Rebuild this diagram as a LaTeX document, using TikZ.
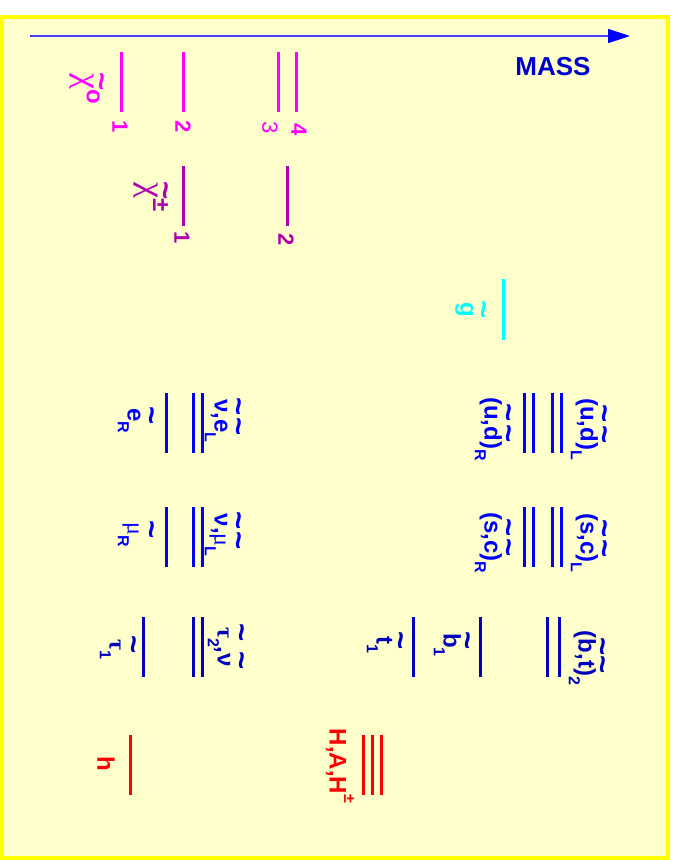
\documentclass[tikz,border=0pt]{standalone}
\usepackage{fontspec}
\setmainfont{Liberation Sans}
\newfontfamily\grkfont{Liberation Serif}
\usetikzlibrary{arrows.meta}

\definecolor{bgyellow}{RGB}{255,255,204}
\definecolor{rimyellow}{RGB}{255,255,0}
\definecolor{axisblue}{RGB}{64,64,255}
\definecolor{massblue}{RGB}{0,0,204}
\definecolor{neutcol}{RGB}{255,0,255}
\definecolor{charcol}{RGB}{176,0,176}
\definecolor{gluicol}{RGB}{0,255,255}
\definecolor{sqblue}{RGB}{0,0,255}
\definecolor{dkblue}{RGB}{0,0,190}
\definecolor{higgscol}{RGB}{255,0,0}

% tilde over a letter, sub- and superscripts
\newcommand\tld[2][0.57em]{{\setbox0\hbox{#2}\rlap{\hbox to\wd0{\hss\raisebox{#1}{\scalebox{1.3}{\bfseries\char"7E}}\hss}}\box0}}
\newcommand\lsub[1]{\raisebox{-0.4em}{\fontsize{16}{16}\selectfont #1}}
\newcommand\lsup[1]{\raisebox{0.6em}{\fontsize{16}{16}\selectfont #1}}
\newcommand\bigchi{{\fontsize{36}{36}\mdseries\grkfont χ}}

\tikzset{
  lvl/.style={line width=3pt},
  lbl/.style={rotate=-90, inner sep=0pt, font=\bfseries\fontsize{24}{24}\selectfont},
  numlbl/.style={rotate=-90, inner sep=0pt, font=\bfseries\fontsize{22}{22}\selectfont},
  massarrow/.style={axisblue, line width=1.5pt, -{Triangle[length=22pt,width=14pt,color=blue]}}
}

\begin{document}
\begin{tikzpicture}[x=1pt, y=-1pt]
  \useasboundingbox (0,0) rectangle (675,860);
  \fill[bgyellow] (2,17) rectangle (668,858);
  \draw[rimyellow, line width=4pt] (2,17) rectangle (668,858);

  % mass axis
  \coordinate (axstart) at (30,36);
  \coordinate (axend) at (630,36);
  \draw[massarrow] (axstart) -- (axend);
  \node[font=\bfseries\fontsize{26}{26}\selectfont, text=massblue] (mass) at (553,67) {MASS};

  % neutralinos
  \foreach \x in {121,183,278,296}
    \draw[lvl, neutcol] (\x,52) -- (\x,112);
  \node[lbl, text=neutcol] (chizero) at (87,89) {\tld[0.6em]{\bigchi}\raisebox{0.4em}{o}};
  \node[numlbl, text=neutcol] (nzone) at (120,127) {1};
  \node[numlbl, text=neutcol] (nztwo) at (183,127) {2};
  \node[numlbl, text=neutcol] (nzthree) at (270,128) {\mdseries 3};
  \node[numlbl, text=neutcol] (nzfour) at (299,130) {4};

  % charginos
  \foreach \x in {183,287}
    \draw[lvl, charcol] (\x,166) -- (\x,226);
  \node[lbl, text=charcol] (chipm) at (151,197) {\tld[0.6em]{\bigchi}\raisebox{0.5em}{±}};
  \node[numlbl, text=charcol] (chone) at (182,238) {1};
  \node[numlbl, text=charcol] (chtwo) at (286,240) {2};

  % gluino
  \draw[lvl, gluicol] (503,279) -- (503,340);
  \node[lbl, text=gluicol] (gluino) at (471,310) {\tld{g}};

  % first generation
  \foreach \x in {166,193,202,524,533,552,561}
    \draw[lvl, sqblue] (\x,393) -- (\x,453);
  \node[lbl, text=sqblue] (eR) at (136,421) {\tld{e}\lsub{R}};
  \node[lbl, text=sqblue] (nueL) at (223,421) {\tld{ν},\tld{e}\lsub{L}};
  \node[lbl, text=sqblue] (udR) at (493,429) {(\tld{u},\tld{d})\lsub{R}};
  \node[lbl, text=sqblue] (udL) at (589,429) {(\tld{u},\tld{d})\lsub{L}};

  % second generation
  \foreach \x in {166,193,202,524,533,552,561}
    \draw[lvl, sqblue] (\x,507) -- (\x,567);
  \node[lbl, text=sqblue] (muR) at (136,535) {\tld{\mdseries\grkfont μ}\lsub{R}};
  \node[lbl, text=sqblue] (numuL) at (223,535) {\tld{ν},\tld{\mdseries\grkfont μ}\lsub{L}};
  \node[lbl, text=sqblue] (scR) at (493,543) {(\tld{s},\tld{c})\lsub{R}};
  \node[lbl, text=sqblue] (scL) at (589,543) {(\tld{s},\tld{c})\lsub{L}};

  % third generation
  \foreach \x in {143,193,202,413,480,547,559}
    \draw[lvl, dkblue] (\x,617) -- (\x,677);
  \node[lbl, text=dkblue] (tauone) at (118,649) {\tld{\grkfont τ}\lsub{1}};
  \node[lbl, text=dkblue] (tautwo) at (226,647) {\tld{\grkfont τ}\lsub{2},\tld{ν}};
  \node[lbl, text=dkblue] (stopone) at (385,645) {\tld{t}\lsub{1}};
  \node[lbl, text=dkblue] (sbotone) at (452,645) {\tld{b}\lsub{1}};
  \node[lbl, text=dkblue] (bttwo) at (587,658) {(\tld{b},\tld{t})\lsub{2}};

  % higgs
  \foreach \x in {130,363,372,381}
    \draw[lvl, higgscol] (\x,735) -- (\x,795);
  \node[lbl, text=higgscol] (hlight) at (106,764) {h};
  \node[lbl, text=higgscol] (hheavy) at (340,766) {H,A,H\lsup{±}};
\end{tikzpicture}
\end{document}
